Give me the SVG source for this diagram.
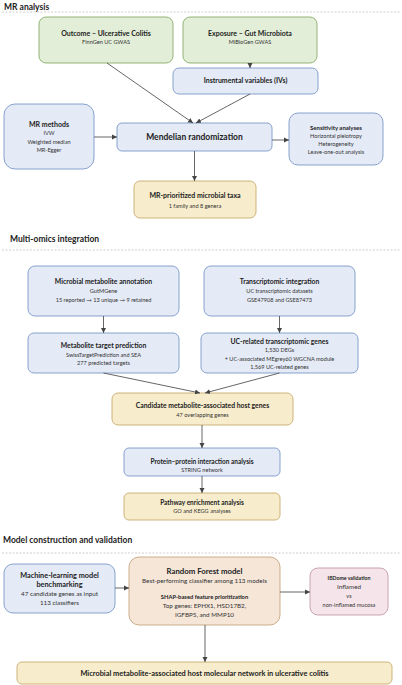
<svg xmlns="http://www.w3.org/2000/svg" width="402" height="685" viewBox="0 0 402 685">
<defs>
<marker id="ah" markerWidth="6" markerHeight="6" refX="5" refY="3" orient="auto" markerUnits="userSpaceOnUse">
<path d="M0,0.5 L5,3 L0,5.5 Z" fill="#444"/>
</marker>
<style>
text{font-family:Lato,"Open Sans","Liberation Sans",sans-serif;text-anchor:middle;fill:#222}
.sec{font-size:8.5px;font-weight:bold;text-anchor:start}
.t{font-size:7px;font-weight:bold}
.tl{font-size:8.5px;font-weight:bold}
.s{font-size:5.6px;fill:#333}
.m{font-size:6.3px;fill:#333}
.g{fill:#e2eed8;stroke:#8aa96a;stroke-width:0.9}
.b{fill:#e4eaf6;stroke:#7a98c8;stroke-width:0.9}
.y{fill:#f7eccb;stroke:#c8ad6e;stroke-width:0.9}
.o{fill:#f5e6d8;stroke:#c8a680;stroke-width:0.9}
.p{fill:#f5e5ea;stroke:#c499aa;stroke-width:0.9}
.dash{stroke:#bbb;stroke-width:0.7;stroke-dasharray:2,1.5}
.c line{stroke:#555;stroke-width:0.9;marker-end:url(#ah)}
</style>
</defs>
<rect width="402" height="685" fill="#fff"/>

<text class="sec" x="4" y="10">MR analysis</text>
<line class="dash" x1="2" y1="12" x2="400" y2="12"/>
<text class="sec" x="10" y="242">Multi-omics integration</text>
<line class="dash" x1="2" y1="250" x2="400" y2="250"/>
<text class="sec" x="3" y="543">Model construction and validation</text>
<line class="dash" x1="2" y1="553" x2="400" y2="553"/>

<g id="outcome"><rect class="g" x="39" y="17" width="134" height="46" rx="7"/>
<text class="t" x="106" y="36">Outcome – Ulcerative Colitis</text><text class="s" x="106" y="44">FinnGen UC GWAS</text></g>
<g id="exposure"><rect class="g" x="183" y="17" width="134" height="46" rx="7"/>
<text class="t" x="250" y="36">Exposure – Gut Microbiota</text><text class="s" x="250" y="44">MiBioGen GWAS</text></g>
<g id="iv"><rect class="b" x="173" y="68" width="145" height="26" rx="6"/>
<text class="t" x="245.5" y="83">Instrumental variables (IVs)</text></g>
<g id="mrmethods"><rect class="b" x="4" y="104" width="90" height="65" rx="11"/>
<text class="t" x="49" y="127">MR methods</text><text class="s" x="49" y="135">IVW</text><text class="s" x="49" y="144">Weighted median</text><text class="s" x="49" y="152">MR-Egger</text></g>
<g id="mendelian"><rect class="b" x="117" y="123" width="155" height="28" rx="5"/>
<text class="tl" x="194.5" y="140">Mendelian randomization</text></g>
<g id="sensitivity"><rect class="b" x="289" y="113" width="94" height="52" rx="9"/>
<text class="t" x="336" y="130" style="font-size:6px">Sensitivity analyses</text><text class="s" x="336" y="138">Horizontal pleiotropy</text><text class="s" x="336" y="146">Heterogeneity</text><text class="s" x="336" y="154">Leave-one-out analysis</text></g>
<g id="mrtaxa"><rect class="y" x="134" y="181" width="122" height="37" rx="6"/>
<text class="t" x="195" y="198">MR-prioritized microbial taxa</text><text class="s" x="195" y="208">1 family and 8 genera</text></g>

<g id="annot"><rect class="b" x="28" y="266" width="151" height="50" rx="7"/>
<text class="t" x="103.5" y="284" style="font-size:6.8px">Microbial metabolite annotation</text><text class="s" x="103.5" y="293">GutMGene</text><text class="s" x="103.5" y="302">15 reported → 13 unique → 9 retained</text></g>
<g id="transcr"><rect class="b" x="204" y="266" width="151" height="50" rx="7"/>
<text class="t" x="279.5" y="284" style="font-size:6.8px">Transcriptomic integration</text><text class="s" x="279.5" y="293">UC transcriptomic datasets</text><text class="s" x="279.5" y="302">GSE47908 and GSE87473</text></g>
<g id="target"><rect class="b" x="28" y="333" width="151" height="40" rx="6"/>
<text class="t" x="103.5" y="348" style="font-size:6.8px">Metabolite target prediction</text><text class="s" x="103.5" y="357">SwissTargetPrediction and SEA</text><text class="s" x="103.5" y="365">277 predicted targets</text></g>
<g id="ucgenes"><rect class="b" x="201" y="333" width="157" height="40" rx="6"/>
<text class="t" x="279.5" y="344" style="font-size:6.8px">UC-related transcriptomic genes</text><text class="s" x="279.5" y="352">1,530 DEGs</text><text class="s" x="279.5" y="361">+ UC-associated MEgrey60 WGCNA module</text><text class="s" x="279.5" y="369">1,569 UC-related genes</text></g>
<g id="candidate"><rect class="y" x="112" y="393" width="181" height="32" rx="6"/>
<text class="t" x="202.5" y="408" style="font-size:6.8px">Candidate metabolite-associated host genes</text><text class="s" x="202.5" y="417">47 overlapping genes</text></g>
<g id="ppi"><rect class="b" x="124" y="448" width="156" height="28" rx="5"/>
<text class="t" x="202" y="464" style="font-size:6.5px">Protein–protein interaction analysis</text><text class="s" x="202" y="472">STRING network</text></g>
<g id="pathway"><rect class="y" x="124" y="493" width="156" height="27" rx="5"/>
<text class="t" x="202" y="505" style="font-size:6.5px">Pathway enrichment analysis</text><text class="s" x="202" y="513">GO and KEGG analyses</text></g>

<g id="ml"><rect class="b" x="4" y="564" width="111" height="49" rx="9"/>
<text class="t" x="59.5" y="578" style="font-size:7.3px">Machine-learning model</text><text class="t" x="59.5" y="587" style="font-size:7.3px">benchmarking</text><text class="m" x="59.5" y="596">47 candidate genes as input</text><text class="m" x="59.5" y="605">113 classifiers</text></g>
<g id="rf"><rect class="o" x="129" y="557" width="151" height="68" rx="10"/>
<text class="t" x="204.5" y="574" style="font-size:7.8px">Random Forest model</text><text class="m" x="204.5" y="583">Best-performing classifier among 113 models</text><text class="t" x="204.5" y="599" style="font-size:5.8px">SHAP-based feature prioritization</text><text class="m" x="204.5" y="608">Top genes: EPHX1, HSD17B2,</text><text class="m" x="204.5" y="617">IGFBP5, and MMP10</text></g>
<g id="ibdome"><rect class="p" x="310" y="568" width="78" height="47" rx="8"/>
<text class="t" x="349" y="580" style="font-size:5.2px">IBDome validation</text><text class="m" x="349" y="589">Inflamed</text><text class="s" x="349" y="598">vs</text><text class="s" x="349" y="607">non-inflamed mucosa</text></g>
<g id="network"><rect class="y" x="17" y="662" width="375" height="22" rx="5"/>
<text class="t" x="204.5" y="676" style="font-size:7.4px">Microbial metabolite-associated host molecular network in ulcerative colitis</text></g>

<g id="connectors" class="c">
<line x1="250" y1="63" x2="250" y2="68"/>
<line x1="107" y1="63" x2="193" y2="123"/>
<line x1="250" y1="94" x2="196" y2="123"/>
<line x1="94" y1="137" x2="117" y2="137"/>
<line x1="272" y1="140" x2="289" y2="140"/>
<line x1="194.5" y1="151" x2="194.5" y2="181"/>
<line x1="103.5" y1="316" x2="103.5" y2="333"/>
<line x1="279.5" y1="316" x2="279.5" y2="333"/>
<line x1="103.5" y1="373" x2="200" y2="393"/>
<line x1="279.5" y1="373" x2="205" y2="393"/>
<line x1="202" y1="425" x2="202" y2="448"/>
<line x1="202" y1="476" x2="202" y2="493"/>
<line x1="115" y1="588" x2="129" y2="588"/>
<line x1="280" y1="592" x2="310" y2="592"/>
<line x1="205" y1="625" x2="205" y2="662"/>
</g>
</svg>
